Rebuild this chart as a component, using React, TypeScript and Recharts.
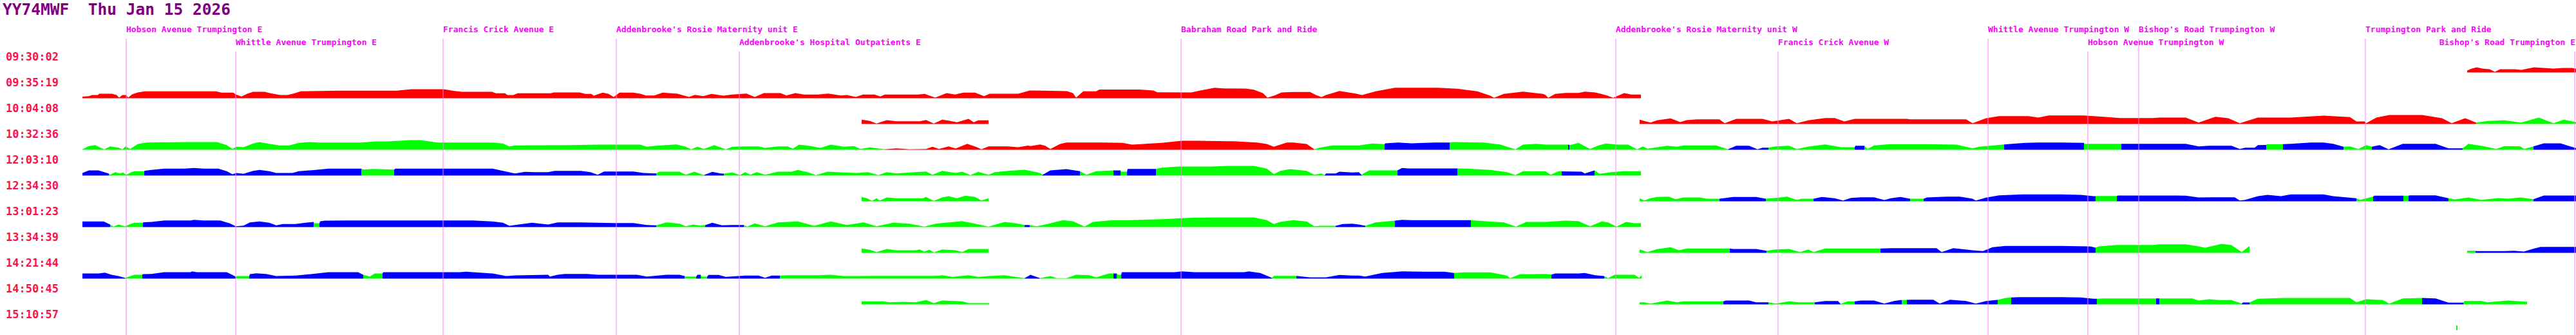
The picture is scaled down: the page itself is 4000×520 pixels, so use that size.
import { ComposedChart, Area, XAxis, YAxis, ReferenceLine } from 'recharts';

// one row per trip, speed profile along the route, coloured by band
type Seg = [string, number[]]; // [band, flat list of distance, speed pairs]
type Trip = Seg[][]; // continuous pieces, each a list of coloured segments

const tripTimes = [
  '09:30:02', '09:35:19', '10:04:08', '10:32:36', '12:03:10', '12:34:30',
  '13:01:23', '13:34:39', '14:21:44', '14:50:45', '15:10:57',
];

const stopNames = [
  'Hobson Avenue Trumpington E',
  'Whittle Avenue Trumpington E',
  'Francis Crick Avenue E',
  "Addenbrooke's Rosie Maternity unit E",
  "Addenbrooke's Hospital Outpatients E",
  'Babraham Road Park and Ride',
  "Addenbrooke's Rosie Maternity unit W",
  'Francis Crick Avenue W',
  'Whittle Avenue Trumpington W',
  'Hobson Avenue Trumpington W',
  "Bishop's Road Trumpington W",
  'Trumpington Park and Ride',
  "Bishop's Road Trumpington E",
];
const stopDist = [196, 366, 688, 957, 1148, 1834, 2509, 2761, 3087, 3242, 3321, 3673, 3998];
const stopLabelRow = [0, 1, 0, 0, 1, 0, 0, 1, 0, 1, 0, 0, 1];

const trip0: Trip = [
  [['r', [3831, 3, 3838, 6, 3846, 8, 3855, 6, 3866, 5, 3874, 1, 3882, 5, 3905, 5, 3915, 4, 3925, 6, 3935, 8, 3950, 7, 3965, 6, 3980, 7, 3993, 7, 4000, 6]]],
];

const trip1: Trip = [
  [['r', [128, 2.5, 138, 3.3, 143, 5, 152, 5, 154, 7, 174, 7, 181, 5, 185, 1, 190, 5, 196, 5, 199, 1, 205, 6, 214, 9, 225, 10.7, 335, 10.7, 344, 8.7, 362, 8.7, 366, 6, 375, 2.7, 384, 7, 393, 10, 411, 10, 420, 7.7, 435, 5, 446, 5, 455, 7, 467, 10.7, 527, 11.7, 616, 11.7, 638, 14, 689, 14, 704, 11.5, 717, 10, 764, 10, 770, 7.7, 784, 7.7, 788, 5, 797, 5, 804, 7.7, 855, 7.7, 860, 9, 900, 9, 909, 6.7, 918, 6.7, 922, 4, 936, 8.7, 945, 6.7, 953, 2, 962, 8.7, 983, 8.7, 994, 7, 1003, 4.3, 1016, 4.3, 1029, 8.7, 1052, 7, 1070, 2, 1079, 5.3, 1092, 3.3, 1105, 6.7, 1123, 4, 1137, 5.7, 1159, 7.3, 1172, 2, 1186, 8, 1212, 8, 1221, 4.3, 1235, 8, 1248, 5.7, 1270, 5.7, 1286, 7.3, 1306, 4.3, 1315, 5, 1329, 2, 1340, 5.7, 1358, 5.7, 1367, 2.7, 1374, 5.7, 1425, 5.7, 1436, 6.7, 1452, 1, 1470, 8, 1483, 5.7, 1496, 8.7, 1514, 8.7, 1528, 3.3, 1537, 7, 1581, 7, 1599, 12, 1621, 11.7, 1657, 11, 1666, 8, 1671, 1, 1682, 10.7, 1702, 10.7, 1707, 13.5, 1770, 13.5, 1791, 12, 1797, 9.3, 1850, 9, 1860, 11.3, 1886, 16.2, 1900, 15.3, 1934, 15, 1947, 13.3, 1961, 8, 1968, 1, 1979, 4.3, 1990, 9, 2008, 9.7, 2034, 9.7, 2044, 4.7, 2052, 1.7, 2059, 5, 2080, 11.3, 2105, 7.3, 2115, 5, 2136, 10.7, 2166, 16.3, 2233, 16.3, 2263, 14.7, 2294, 10.7, 2314, 4, 2320, 0.7, 2335, 6.7, 2365, 10.3, 2396, 6.7, 2400, 5, 2404, 0.7, 2415, 6.7, 2431, 8.3, 2451, 8.3, 2461, 10.3, 2477, 9, 2494, 4.7, 2505, 0.7, 2522, 8, 2533, 5.7, 2548, 5.7]]],
];

const trip2: Trip = [
  [['r', [1338, 6.7, 1351, 4.7, 1361, 0.7, 1377, 6, 1392, 4.3, 1428, 4.3, 1438, 6.3, 1450, 0.7, 1463, 6.7, 1473, 5.3, 1486, 2.7, 1504, 8, 1512, 2.7, 1519, 5.7, 1535, 5.7]]],
  [
    ['r', [2546, 6.7, 2553, 4.7, 2563, 2.3, 2573, 5.7, 2594, 8.7, 2609, 3, 2619, 6, 2635, 7.3, 2670, 7.3, 2678, 1.3, 2696, 8, 2737, 8, 2752, 4, 2778, 8, 2790, 1.3, 2808, 5.7, 2834, 9.3, 2849, 9.3, 2864, 4, 2880, 8, 2961, 8, 2966, 7.3, 3053, 7.3, 3063, 1.3, 3084, 9, 3104, 12.3, 3150, 12.3, 3165, 10, 3181, 13.3, 3236, 13.3, 3266, 11.3, 3292, 9.3, 3343, 9.3, 3353, 10, 3394, 10, 3414, 2.3, 3440, 11.3, 3460, 9, 3478, 1.3, 3506, 10, 3557, 10, 3608, 13, 3649, 10.7, 3659, 4, 3672, 4, 3674, 1.3, 3690, 10, 3710, 14, 3761, 14, 3792, 9, 3807, 1.3, 3828, 9, 3845, 2.3]],
    ['g', [3863, 4.7, 3889, 5.7, 3914, 2.3, 3924, 4.7, 3942, 10, 3965, 1.3, 3981, 6.7, 4000, 3]],
  ],
];

const trip3: Trip = [
  [
    ['g', [128, 0.7, 138, 5.7, 148, 7.3, 158, 2.3, 162, 0.7, 171, 5.3, 184, 3.3, 190, 0.7, 195, 5.3, 202, 1.3, 214, 9, 227, 11.3, 286, 12, 337, 12, 352, 7.3, 361, 1.3, 367, 4.7, 378, 4, 393, 9.7, 403, 12, 418, 9.3, 434, 6.7, 449, 6.7, 464, 10.7, 480, 12, 495, 11.3, 561, 11.3, 582, 13, 602, 13, 638, 15, 653, 15, 679, 11.3, 765, 11.3, 781, 9.7, 791, 5.3, 800, 6.8, 887, 7.3, 928, 8, 994, 8, 1004, 4.7, 1019, 6.3, 1050, 8.3, 1065, 4.7, 1073, 0.7, 1083, 4.7, 1093, 1.3, 1109, 7.3, 1127, 0.7, 1137, 4.7, 1157, 5.3, 1178, 5.3, 1188, 3, 1208, 5.3, 1223, 5.3, 1231, 1.7, 1241, 8, 1259, 5.7, 1274, 3, 1290, 8, 1310, 4.7, 1326, 5.7, 1336, 1.3, 1351, 3.7, 1364, 2, 1374, 0.7]],
    ['r', [1392, 2.3, 1412, 0.7, 1438, 1.3, 1448, 4.7, 1458, 1.3, 1473, 5.3, 1484, 2, 1502, 9.3, 1517, 4, 1524, 0.7, 1535, 5.3, 1565, 5.3, 1581, 4, 1596, 6.5, 1600, 5.7, 1615, 8.3, 1623, 6.3, 1631, 1.3, 1646, 9, 1656, 11.3, 1712, 11.3, 1743, 10.7, 1758, 8, 1804, 10.7, 1835, 14, 1860, 14, 1906, 13.3, 1916, 13.3, 1952, 11.3, 1967, 9, 1978, 4.7, 1998, 11.3, 2008, 11.3, 2029, 9, 2041, 0.7]],
    ['g', [2049, 3.3, 2069, 6.7, 2110, 6.7, 2131, 9.7, 2150, 8.7]],
    ['b', [2151, 10, 2171, 11.3, 2192, 10, 2212, 10.7, 2228, 11.3, 2251, 11.3]],
    ['g', [2258, 12, 2304, 11.3, 2330, 8, 2353, 0.7, 2365, 8, 2386, 9.3, 2400, 8, 2435, 8]],
    ['b', [2437, 7.5]],
    ['g', [2438, 7.3, 2451, 10.7, 2469, 1.3, 2482, 6.7, 2494, 9.7, 2512, 8, 2528, 8, 2542, 0.7, 2551, 5.3, 2558, 1.7, 2589, 6.3, 2604, 4.7, 2614, 6.7, 2665, 6.7, 2683, 0.7]],
    ['b', [2696, 6.3, 2716, 6.3, 2729, 0.7, 2737, 3.3, 2746, 3.3]],
    ['g', [2757, 5.3, 2778, 6.3, 2790, 1.3, 2808, 5, 2834, 8.3, 2859, 4, 2880, 4]],
    ['b', [2881, 6.3, 2895, 6.3]],
    ['g', [2900, 1.3, 2910, 6.7, 2936, 8.7, 2987, 8.7, 3038, 8, 3063, 2.3, 3073, 4.7, 3112, 8.3]],
    ['b', [3124, 9.3, 3145, 10.7, 3165, 11.3, 3200, 11.3, 3236, 10.7]],
    ['g', [3237, 9.3, 3294, 9.3]],
    ['b', [3295, 9.3, 3394, 9.3, 3414, 5.3, 3430, 6.3, 3465, 6.3, 3478, 1.3, 3486, 3.3, 3501, 3.3, 3506, 7.3, 3519, 7.5]],
    ['g', [3520, 8.7, 3545, 8.7]],
    ['b', [3557, 9.3, 3588, 11.3, 3608, 11.3, 3623, 9.3, 3639, 4.7]],
    ['g', [3649, 5.3, 3662, 1.3, 3674, 7.3, 3683, 4.7]],
    ['b', [3695, 7.3, 3709, 0.7, 3731, 9.3, 3782, 9.3, 3802, 2.3, 3824, 2.3]],
    ['g', [3833, 9.3, 3858, 5.3, 3876, 1.3, 3889, 5.7, 3914, 5.3, 3919, 1.3, 3934, 5.3]],
    ['b', [3950, 10, 3976, 10, 3991, 5.3, 4000, 2.7]],
  ],
];

const trip4: Trip = [
  [
    ['b', [128, 4, 138, 8, 153, 8, 166, 4, 169, 3]],
    ['g', [171, 1.3, 179, 5.3, 186, 3.3, 191, 4.7, 196, 1.3, 204, 5.3, 209, 6.7, 224, 6.7]],
    ['b', [225, 7.5, 235, 8.7, 255, 10.7, 286, 10.7, 301, 11.7, 316, 10.7, 339, 10.7, 352, 6.7, 361, 2, 367, 4, 378, 2.7, 393, 7.3, 403, 8.7, 418, 6.7, 429, 4, 454, 4, 464, 6.7, 490, 8.7, 510, 10.7, 561, 10.7]],
    ['g', [565, 9.3, 580, 10.2, 612, 9.3]],
    ['b', [614, 10.7, 765, 10.7, 781, 7.3, 796, 4, 800, 3.3, 815, 5.7, 831, 5.3, 851, 5.3, 861, 7.3, 902, 7.3, 917, 5.3, 928, 1.3, 938, 6.3, 984, 6.3, 999, 4, 1019, 3.3]],
    ['g', [1024, 6, 1055, 6, 1065, 1.3, 1078, 6, 1093, 0.7]],
    ['b', [1106, 5.7, 1119, 3.3, 1124, 3]],
    ['g', [1137, 4.7, 1149, 0.7, 1157, 5.3, 1165, 1.3, 1175, 5.3, 1188, 1.3, 1208, 6, 1229, 6, 1239, 8.7, 1254, 5.3, 1267, 0.7, 1285, 6, 1310, 4.7, 1331, 4, 1348, 5.3, 1364, 0.7, 1377, 5.3, 1392, 3.3, 1412, 4.7, 1438, 6.3, 1448, 1.3, 1463, 7.3, 1484, 4, 1494, 6, 1507, 0.7, 1519, 5.7, 1535, 1.3, 1545, 5.3, 1565, 7.3, 1591, 9, 1600, 7.3, 1615, 4, 1619, 1.3]],
    ['b', [1631, 8, 1656, 10, 1677, 6.7]],
    ['g', [1687, 1.3, 1702, 6.7, 1729, 8]],
    ['b', [1731, 8, 1740, 8]],
    ['g', [1741, 6, 1750, 6]],
    ['b', [1751, 10.3, 1795, 10.3]],
    ['g', [1804, 12.3, 1830, 14, 1881, 14, 1906, 15, 1947, 15, 1967, 10.7, 1978, 2.3, 1988, 7.3, 2003, 10, 2029, 7.3, 2041, 1.3, 2052, 3.3, 2057, 0.7]],
    ['b', [2059, 3.3, 2074, 3.3, 2080, 6, 2100, 4.7, 2110, 5.3, 2114, 1.3]],
    ['g', [2126, 8, 2170, 8]],
    ['b', [2177, 11.7, 2187, 11, 2263, 11]],
    ['g', [2279, 10.7, 2314, 8.7, 2340, 5.3, 2353, 0.7, 2365, 6.7, 2400, 6.5, 2408, 1.3, 2420, 6.7, 2425, 6.5]],
    ['b', [2456, 6, 2461, 3.3, 2476, 8]],
    ['g', [2484, 2.7, 2502, 5.3, 2522, 6.7, 2548, 6.7]],
  ],
];

const trip5: Trip = [
  [['g', [1338, 6.7, 1346, 4.7, 1354, 0.7, 1361, 4.7, 1366, 1.3, 1377, 6, 1392, 4.7, 1433, 4.7, 1438, 6.7, 1450, 0.7, 1463, 6, 1473, 8, 1486, 4.7, 1499, 8.7, 1514, 6.7, 1524, 1.3, 1535, 4.7]]],
  [
    ['g', [2546, 4.7, 2553, 1.3, 2563, 4.7, 2573, 6.7, 2591, 7.3, 2602, 3.3, 2614, 6, 2640, 6, 2650, 4, 2670, 4]],
    ['b', [2676, 4.7, 2691, 6.7, 2727, 6.7, 2742, 4]],
    ['g', [2757, 5.3, 2775, 7.3, 2790, 2.3, 2798, 4, 2816, 4]],
    ['b', [2829, 6.7, 2849, 4.7, 2862, 1.3, 2874, 5.3, 2890, 6.3, 2910, 6.3, 2926, 2, 2936, 4.7, 2951, 6.7, 2966, 4]],
    ['g', [2968, 4, 2987, 4]],
    ['b', [2992, 6, 3022, 7.3, 3043, 7.3, 3063, 4, 3068, 1.3, 3084, 5.7, 3104, 9.3, 3140, 10.7, 3200, 10.7, 3231, 10, 3251, 8, 3254, 8]],
    ['g', [3256, 8.3, 3287, 8.3]],
    ['b', [3289, 9, 3379, 9, 3394, 8.7, 3414, 6, 3435, 6.3, 3470, 6.3, 3478, 1.3, 3486, 2.3, 3506, 8, 3521, 10, 3542, 8, 3557, 10.7, 3608, 10.7, 3623, 8, 3659, 4.7]],
    ['g', [3664, 2.3, 3685, 7.3]],
    ['b', [3687, 8.7, 3732, 8.7]],
    ['g', [3734, 8.7, 3740, 8.7]],
    ['b', [3742, 9.3, 3782, 9.3, 3802, 4.7]],
    ['g', [3812, 3, 3833, 6, 3853, 2.3, 3879, 5, 3894, 4, 3914, 6, 3934, 3.3]],
    ['b', [3950, 9, 4000, 9]],
  ],
];

const trip6: Trip = [
  [
    ['b', [128, 8.7, 161, 8.7, 171, 4]],
    ['g', [176, 0.7, 184, 4, 194, 1.3, 204, 5.3, 209, 6.7, 222, 6.7]],
    ['b', [223, 7.5, 235, 8, 255, 10.3, 296, 10.3, 301, 11.3, 316, 10.3, 342, 10.3, 357, 5.7, 366, 1.3, 378, 2.3, 388, 7.3, 403, 8.7, 418, 6.7, 429, 2.7, 439, 4.7, 459, 4.7, 474, 6.7, 487, 8]],
    ['g', [488, 6, 496, 6]],
    ['b', [497, 9, 505, 10, 536, 10.3, 735, 10.3, 765, 8.7, 781, 6.7, 791, 2, 800, 3.3, 826, 6.7, 851, 4, 866, 7.3, 902, 7.3, 953, 6.3, 984, 6.3, 1004, 3.3, 1019, 2.7]],
    ['g', [1035, 7.3, 1055, 5.3, 1065, 1.3, 1076, 4, 1088, 2.3, 1095, 3]],
    ['b', [1106, 6.7, 1121, 2.7, 1137, 3.3, 1155, 3.3]],
    ['g', [1160, 0.7, 1172, 5.7, 1188, 1.3, 1208, 7.3, 1239, 8.7, 1264, 2, 1290, 8.7, 1315, 3.3, 1341, 7.3, 1361, 1.3, 1387, 6.7, 1412, 5.3, 1435, 0.7, 1453, 5.3, 1494, 9.3, 1514, 5.3, 1535, 0.7, 1560, 8, 1581, 5.3, 1591, 3.3]],
    ['b', [1596, 3.3, 1599, 3]],
    ['g', [1610, 1.3, 1623, 4, 1651, 10.7, 1666, 9, 1684, 0.7, 1697, 8, 1728, 10.7, 1753, 10.7, 1804, 12.3, 1855, 14.7, 1906, 15, 1947, 15, 1967, 10.7, 1978, 4.7, 1988, 8, 2008, 10.7, 2029, 8.7, 2041, 1.3, 2049, 2, 2074, 2]],
    ['b', [2085, 4.7, 2100, 5.3, 2110, 4, 2120, 2]],
    ['g', [2136, 7.3, 2166, 10]],
    ['b', [2177, 11.3, 2192, 10.7, 2284, 10.7]],
    ['g', [2304, 9.3, 2335, 7.3, 2354, 0.7, 2370, 8, 2400, 8, 2431, 10, 2451, 9.3, 2469, 1.3, 2487, 8.7, 2497, 7.3, 2510, 0.7, 2525, 8, 2538, 6, 2548, 6]],
  ],
];

const trip7: Trip = [
  [['g', [1338, 6.7, 1351, 4.7, 1361, 1.3, 1377, 6, 1392, 4, 1422, 4, 1428, 5.3, 1435, 2, 1443, 4.7, 1450, 0.7, 1463, 5.3, 1484, 4, 1494, 1.3, 1504, 6, 1535, 6]]],
  [
    ['g', [2546, 5.3, 2558, 1.3, 2573, 5.7, 2594, 8.7, 2607, 4, 2619, 6.7, 2686, 6.7]],
    ['b', [2691, 6, 2727, 6, 2743, 3.3]],
    ['g', [2757, 5.3, 2778, 6, 2795, 1.3, 2808, 5.3, 2816, 1.3, 2834, 6.7, 2920, 6.7]],
    ['b', [2936, 7.3, 3007, 7.3, 3015, 1.3, 3033, 7.3, 3063, 4, 3079, 2.7, 3094, 8.7, 3114, 10.7, 3200, 10.7, 3246, 10, 3254, 8]],
    ['g', [3259, 10, 3287, 12.3, 3343, 12.3, 3353, 13.3, 3394, 13.3, 3414, 10, 3424, 8, 3450, 14, 3465, 12, 3481, 1.3, 3492, 10, 3493, 10]],
  ],
  [
    ['g', [3831, 3.3, 3844, 3.3]],
    ['b', [3845, 2.7, 3889, 2.7, 3904, 3.3, 3919, 2, 3935, 6.7, 3945, 9.3, 4000, 9.3]],
  ],
];

const trip8: Trip = [
  [
    ['b', [128, 8, 153, 8, 163, 9.3, 173, 6, 184, 4, 194, 1.3]],
    ['g', [199, 2.7, 209, 6, 221, 6]],
    ['b', [222, 7, 235, 7.3, 255, 10, 296, 10, 298, 11.3, 306, 10, 352, 10, 362, 5.3, 366, 3]],
    ['g', [368, 4, 387, 4]],
    ['b', [388, 7, 398, 8.3, 413, 7.3, 429, 4, 459, 4.7, 485, 7.3, 510, 10, 556, 10, 564, 6]],
    ['g', [574, 3.3, 582, 8, 594, 8]],
    ['b', [595, 10, 714, 10, 724, 10.7, 765, 8, 786, 4, 800, 5, 851, 6, 854, 3.3, 866, 6, 877, 7.3, 912, 7.3, 928, 6, 989, 6, 1004, 3.3, 1014, 4, 1035, 6, 1055, 6, 1063, 4]],
    ['g', [1065, 3.3, 1081, 3.3]],
    ['b', [1083, 6, 1088, 6]],
    ['g', [1090, 3, 1098, 3]],
    ['b', [1100, 5.7, 1116, 5.7, 1127, 2.7, 1157, 4.7, 1178, 4.7, 1188, 1.3, 1198, 4.7, 1211, 4.7]],
    ['g', [1223, 5.3, 1269, 5.3, 1290, 6, 1310, 4, 1331, 4, 1361, 4.3, 1453, 4.3, 1463, 5.3, 1479, 2.7, 1504, 5.3, 1519, 2.7, 1535, 4, 1560, 5.3, 1591, 0.7]],
    ['b', [1598, 4.7, 1600, 6, 1615, 0.7]],
    ['g', [1631, 4, 1641, 0.7, 1656, 0.7, 1671, 6, 1692, 5.3, 1702, 2, 1722, 8, 1729, 8]],
    ['b', [1730, 8, 1734, 8]],
    ['g', [1736, 6, 1741, 6]],
    ['b', [1742, 10, 1824, 10, 1835, 11.3, 1855, 10, 1932, 10, 1939, 11.3, 1957, 8.7, 1975, 1.3]],
    ['g', [1978, 4.3, 2013, 4.3]],
    ['b', [2034, 2, 2059, 2, 2080, 5.7, 2100, 4.7, 2110, 4.7, 2120, 3.3, 2146, 8.7, 2177, 11.3, 2212, 10.7, 2243, 10.7, 2258, 8.7]],
    ['g', [2273, 9.7, 2314, 9.7, 2340, 4.7, 2345, 0.7, 2360, 6.7, 2400, 7.3, 2409, 6.3]],
    ['b', [2415, 8, 2451, 8, 2461, 8.7, 2477, 5.3, 2491, 4]],
    ['g', [2497, 0.7, 2507, 6, 2538, 6, 2545, 1.3, 2549, 5.3]],
  ],
];

const trip9: Trip = [
  [['g', [1338, 4.7, 1371, 4.7, 1382, 3.3, 1402, 4, 1422, 3.3, 1438, 6.7, 1450, 2, 1463, 6, 1494, 4.7, 1504, 2, 1536, 2]]],
  [
    ['g', [2546, 3.3, 2553, 3.3, 2563, 1.3, 2589, 6, 2604, 3.3, 2614, 4.7, 2676, 4.7]],
    ['b', [2680, 6, 2716, 6, 2727, 3.3, 2746, 3.3]],
    ['g', [2757, 1.3, 2778, 4.7, 2793, 3.3, 2818, 3.3]],
    ['b', [2834, 5.3, 2854, 5.3, 2858, 0.7]],
    ['g', [2869, 4.7, 2880, 4.7]],
    ['b', [2890, 6, 2910, 6, 2926, 1.3, 2941, 5.3, 2951, 6.7, 2953, 6.7]],
    ['g', [2955, 6.7, 2961, 7]],
    ['b', [2966, 7.3, 3002, 7.3, 3012, 1.3, 3028, 7.3, 3053, 5.3, 3068, 1.3, 3084, 5.3, 3099, 6.7, 3102, 7]],
    ['g', [3114, 10, 3123, 10.7]],
    ['b', [3135, 11.3, 3200, 11.3, 3231, 10.7, 3251, 8.7, 3256, 8.7]],
    ['g', [3266, 9.3, 3348, 9.3]],
    ['b', [3349, 9.3, 3353, 9.3]],
    ['g', [3354, 9.3, 3404, 9.3, 3414, 6, 3430, 8, 3445, 6.7, 3465, 6.7, 3481, 1.3]],
    ['b', [3483, 3, 3493, 3]],
    ['g', [3506, 8.7, 3547, 10, 3649, 10, 3659, 3.3, 3674, 8, 3700, 6.7, 3710, 1.3, 3731, 9.3, 3761, 10]],
    ['b', [3782, 9.3, 3802, 2.7, 3825, 2.7]],
    ['g', [3827, 5.3, 3853, 5.3, 3863, 3.3, 3894, 6, 3924, 4]],
  ],
];

const trip10: Trip = [
  [['g', [3814, 7, 3816, 7]]],
];

const trips = [trip0, trip1, trip2, trip3, trip4, trip5, trip6, trip7, trip8, trip9, trip10];

const BAND_COLOURS: Record<string, string> = { r: '#ff0000', g: '#00ff00', b: '#0000ff' };
const ROW_GAP = 40; // value units between trip rows
const FIRST_BASE = 407.5; // baseline of the first trip row
const LABEL_LIFT = 24.5; // time label sits above its row baseline
const W = 4000;
const H = 520;

// flatten every coloured segment into its own small series
const series = (() => {
  const out: { key: string; fill: string; data: { d: number; v: number[] }[] }[] = [];
  trips.forEach((trip, ti) => {
    const base = FIRST_BASE - ti * ROW_GAP;
    trip.forEach((piece, pi) => {
      let prev: { d: number; v: number[] } | null = null;
      piece.forEach(([band, flat], si) => {
        const pts: { d: number; v: number[] }[] = prev ? [prev] : [];
        for (let i = 0; i < flat.length; i += 2) {
          pts.push({ d: flat[i], v: [base, base + flat[i + 1]] });
        }
        prev = pts[pts.length - 1];
        out.push({ key: `t${ti}-${pi}-${si}`, fill: BAND_COLOURS[band], data: pts });
      });
    });
  });
  return out;
})();

const timeTicks = tripTimes.map((_, i) => FIRST_BASE - i * ROW_GAP + LABEL_LIFT);

const TimeTick = (props: any) => {
  const { y, index } = props;
  return (
    <text
      x={9}
      y={y}
      dominantBaseline="central"
      fill="#ff1048"
      fontFamily="'DejaVu Sans Mono', monospace"
      fontWeight="bold"
      fontSize={17}
    >
      {tripTimes[index]}
    </text>
  );
};

const StopLabel = (props: any) => {
  const { viewBox, text } = props;
  const estWidth = text.length * 7.85;
  const overflow = viewBox.x + estWidth > W;
  return (
    <text
      x={overflow ? W - 1 : viewBox.x}
      y={viewBox.y - 15}
      textAnchor={overflow ? 'end' : 'start'}
      dominantBaseline="central"
      fill="#ff00ff"
      fontFamily="'DejaVu Sans Mono', monospace"
      fontWeight="bold"
      fontSize={13}
    >
      {text}
    </text>
  );
};

export default function App() {
  return (
    <div style={{ position: 'absolute', left: 0, top: 0, width: W, height: H, background: '#ffffff' }}>
      <div
        style={{
          position: 'absolute',
          left: 4,
          top: 0,
          lineHeight: '30px',
          fontFamily: "'DejaVu Sans Mono', monospace",
          fontWeight: 'bold',
          fontSize: 24.5,
          color: '#800080',
          whiteSpace: 'pre',
        }}
      >
        {'YY74MWF  Thu Jan 15 2026'}
      </div>
      <ComposedChart width={W} height={H} margin={{ top: 0, right: 0, bottom: 0, left: 0 }}>
        <XAxis dataKey="d" type="number" domain={[96, W]} allowDataOverflow hide />
        <YAxis
          type="number"
          domain={[0, H]}
          allowDataOverflow
          ticks={timeTicks}
          interval={0}
          width={96}
          axisLine={false}
          tickLine={false}
          tick={<TimeTick />}
        />
        {stopNames.map((name, i) => (
          <ReferenceLine
            key={name + i}
            segment={[
              { x: stopDist[i], y: H - 60 - stopLabelRow[i] * 20 },
              { x: stopDist[i], y: 0 },
            ]}
            stroke="#ff80ff"
            strokeWidth={1}
            ifOverflow="visible"
            label={<StopLabel text={name} />}
          />
        ))}
        {series.map((s) => (
          <Area
            key={s.key}
            data={s.data}
            dataKey="v"
            type="linear"
            stroke="none"
            fill={s.fill}
            fillOpacity={1}
            dot={false}
            activeDot={false}
            isAnimationActive={false}
          />
        ))}
      </ComposedChart>
    </div>
  );
}
